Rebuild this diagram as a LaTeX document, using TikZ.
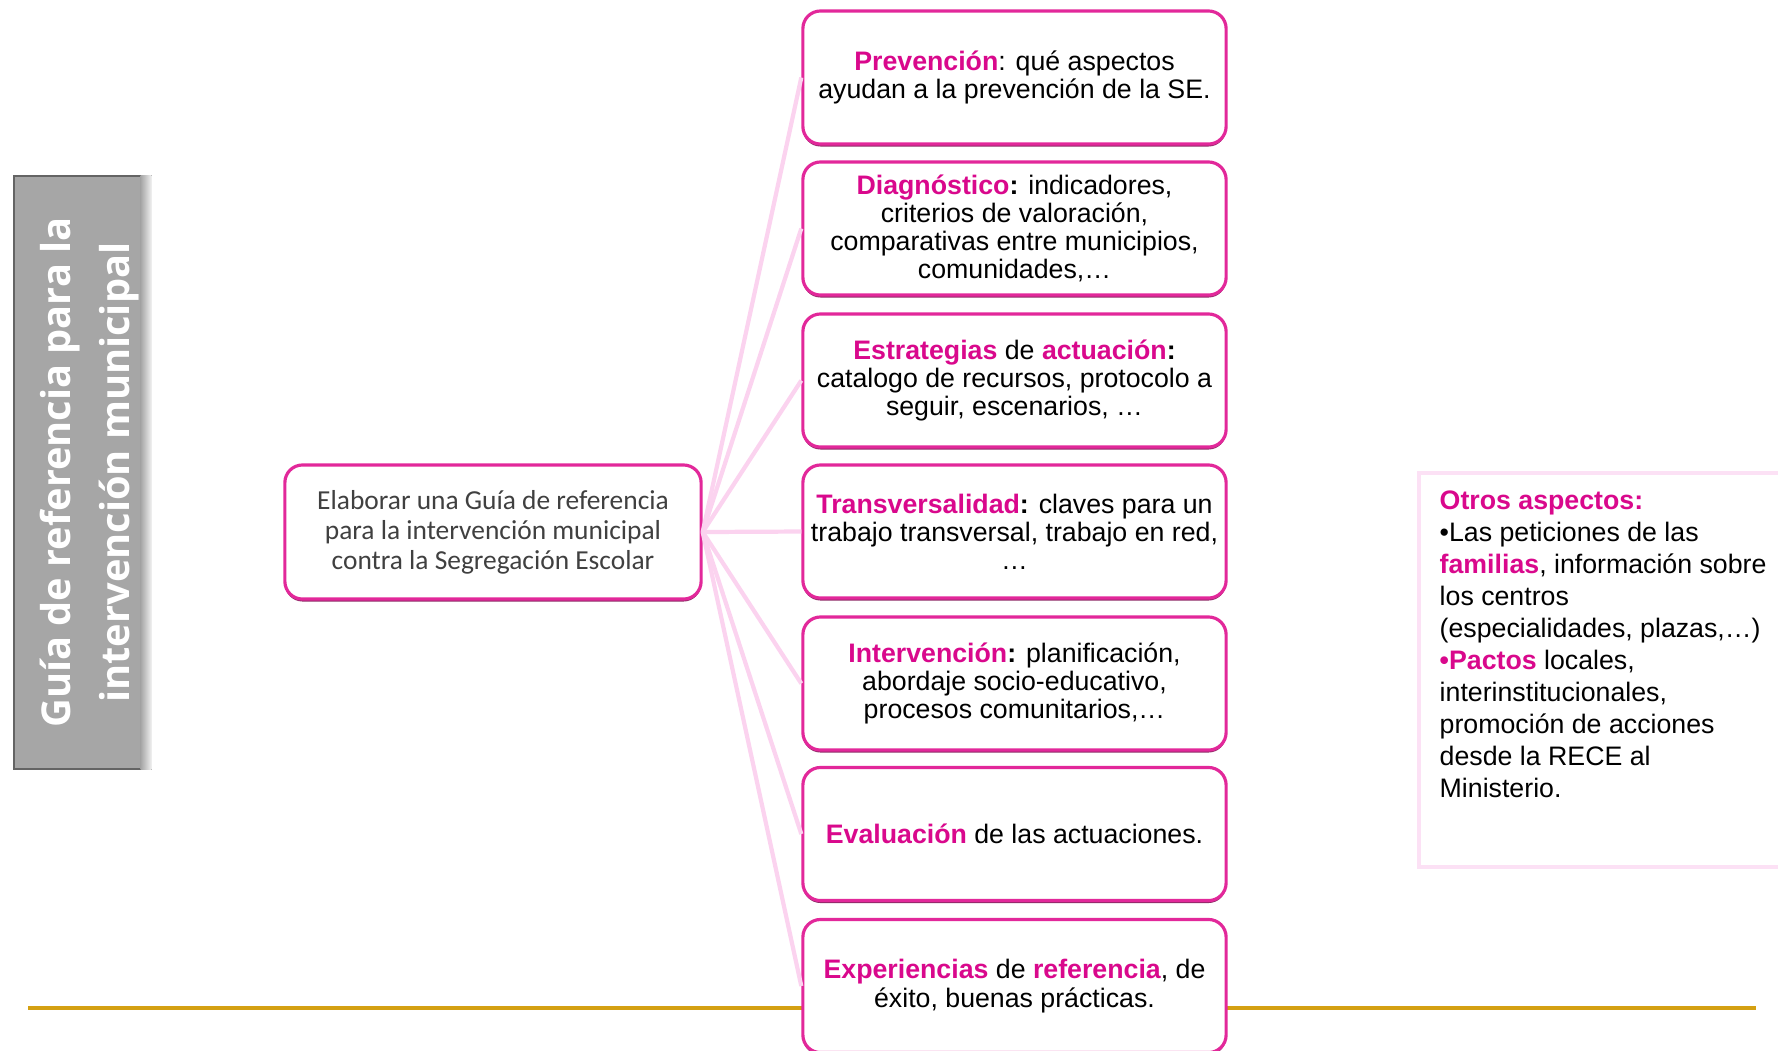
\documentclass[tikz,border=0pt]{standalone}
\usepackage{fontspec}
\setmainfont{Liberation Sans}
\newfontfamily\titlefont{Open Sans}
\newfontfamily\guiafont{Carlito}
\usepackage{xcolor}
\usepackage{tikz}
\usetikzlibrary{calc,shadows}
\definecolor{key}{HTML}{D9088C}
\definecolor{edge}{HTML}{E2289A}
\definecolor{edgedark}{HTML}{8E2A66}
\definecolor{link}{HTML}{FBD3EF}
\definecolor{gold}{HTML}{D4A012}
\definecolor{panel}{HTML}{A6A6A6}
\definecolor{guiatext}{HTML}{404040}
\definecolor{soft}{HTML}{FCE1F5}
\newcommand{\kw}[1]{\textbf{\textcolor{key}{#1}}}
\tikzset{
  titlebox/.style={draw=panel!60!black, fill=panel, minimum width=1.37cm, minimum height=5.93cm, inner sep=0pt},
  titletext/.style={text=white, align=center, font=\titlefont\bfseries\fontsize{11.3}{17}\selectfont},
  guiabox/.style={draw=edge, line width=0.9pt, rounded corners=5pt, fill=white, minimum width=4.16cm, minimum height=1.34cm, align=center, text=guiatext, font=\guiafont\fontsize{7.8}{8.5}\selectfont, drop shadow={shadow xshift=0pt, shadow yshift=-0.7pt, fill=edgedark, opacity=1}},
  item/.style={draw=edge, line width=0.9pt, rounded corners=5pt, fill=white, minimum width=4.23cm, minimum height=1.33cm, align=center, inner sep=1pt, font=\fontsize{7.6}{8}\selectfont, drop shadow={shadow xshift=0pt, shadow yshift=-0.7pt, fill=edgedark, opacity=1}},
  link/.style={draw=link, line width=1.2pt},
  goldline/.style={draw=gold, line width=0.9pt},
  otrosbox/.style={draw=soft, line width=1pt, minimum width=4.4cm, minimum height=3.94cm},
  otrostext/.style={align=left, inner sep=0pt, font=\fontsize{7.6}{9.1}\selectfont}
}
\begin{document}
\begin{tikzpicture}[x=0.01cm, y=-0.01cm]
  \useasboundingbox (0,0) rectangle (1778,1050);
  \clip (0,0) rectangle (1778,1050);

  \draw[goldline] (28,1008) -- (1756,1008);

  % title panel
  \node[titlebox] (title) at (82.5,472.5) {};
  \shade[left color=panel, right color=panel!15] ($(title.north east)+(-11,0)$) rectangle (title.south east);
  \node[titletext, rotate=90] (titletxt) at ($(title.center)+(7,0)$) {Guía de referencia para la\\intervención municipal};

  \node[guiabox] (guia) at (493,532) {Elaborar una Guía de referencia\\para la intervención municipal\\contra la Segregación Escolar};

  \node[item] (prev) at (1014.5,77.5) {\kw{Prevención}: qué aspectos\\ayudan a la prevención de la SE.};
  \node[item] (diag) at (1014.5,228.5) {\kw{Diagnóstico}\textbf{:} indicadores,\\criterios de valoración,\\comparativas entre municipios,\\comunidades,…};
  \node[item] (estr) at (1014.5,380.5) {\kw{Estrategias} de \kw{actuación}\textbf{:}\\catalogo de recursos, protocolo a\\seguir, escenarios, …};
  \node[item] (trans) at (1014.5,531.5) {\kw{Transversalidad}\textbf{:} claves para un\\trabajo transversal, trabajo en red,\\…};
  \node[item] (interv) at (1014.5,683.5) {\kw{Intervención}\textbf{:} planificación,\\abordaje socio-educativo,\\procesos comunitarios,…};
  \node[item] (eval) at (1014.5,834) {\kw{Evaluación} de las actuaciones.};
  \node[item] (exp) at (1014.5,986) {\kw{Experiencias} de \kw{referencia}, de\\éxito, buenas prácticas.};

  \foreach \n in {prev,diag,estr,trans,interv,eval,exp}
    \draw[link] (guia.east) -- (\n.west);

  % side note
  \node[otrosbox, anchor=north west] (otros) at (1417,471) {};
  \node[otrostext, anchor=north west] (otrostxt) at ($(otros.north west)+(22,19)$) {\kw{Otros aspectos:}\\•Las peticiones de las\\\kw{familias}, información sobre\\los centros\\(especialidades, plazas,…)\\\kw{•Pactos} locales,\\interinstitucionales,\\promoción de acciones\\desde la RECE al\\Ministerio.};
\end{tikzpicture}
\end{document}
